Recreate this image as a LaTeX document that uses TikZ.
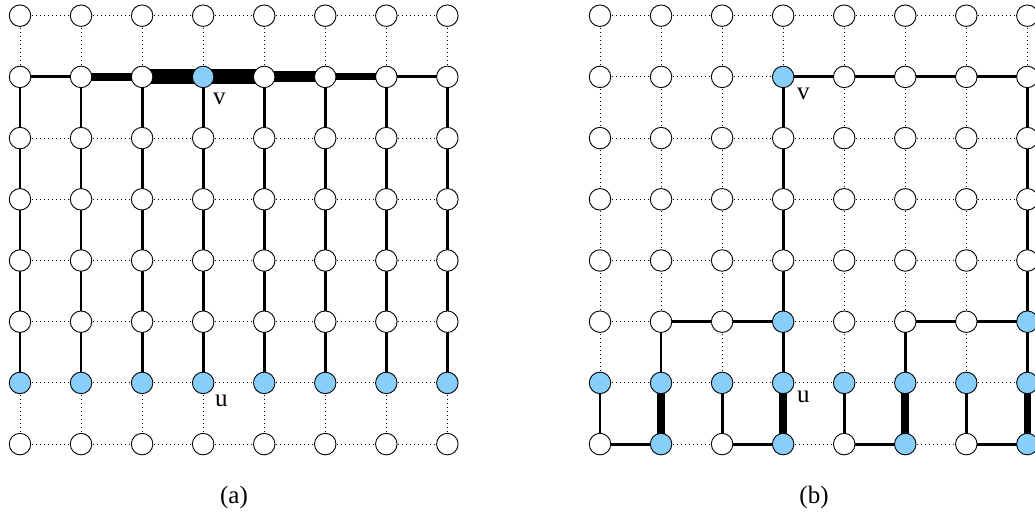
\documentclass[tikz,border=0pt]{standalone}
\usepackage{fontspec}
\setmainfont{Liberation Serif}
\usetikzlibrary{backgrounds}
\definecolor{skyblue}{RGB}{135,206,250}
\begin{document}
\begin{tikzpicture}[x=1pt,y=-1pt,
  vtx/.style={circle,draw=black,line width=0.9pt,minimum size=21.5pt,inner sep=0pt},
  gridedge/.style={line width=1pt,dash pattern=on 1pt off 3pt},
  pathedge/.style={line width=2.8pt},
  heavyedge/.style={line width=7.7pt},
  lbl/.style={inner sep=0pt,font=\fontsize{25}{30}\selectfont}]
\useasboundingbox (0,0) rectangle (1035,513);
\def\dx{61.05}
\def\dy{61.2}

% vertices of both 8x8 grids
\foreach \c in {0,...,7}{
  \foreach \r in {0,...,7}{
    \pgfmathtruncatemacro\ablue{(\r==6) || (\c==3 && \r==1)}
    \pgfmathtruncatemacro\bblue{(\r==6) || (\c==3 && \r==1) || (\r==5 && (\c==3 || \c==7)) || (\r==7 && mod(\c,2)==1)}
    \ifnum\ablue=1 \def\afill{skyblue}\else\def\afill{white}\fi
    \ifnum\bblue=1 \def\bfill{skyblue}\else\def\bfill{white}\fi
    \node[vtx,fill=\afill] (a-\c-\r) at ({20+\dx*\c},{15.7+\dy*\r}) {};
    \node[vtx,fill=\bfill] (b-\c-\r) at ({600+\dx*\c},{15.7+\dy*\r}) {};
  }
}

\begin{pgfonlayer}{background}
  % dotted lattice edges
  \foreach \g in {a,b}{
    \foreach \c in {0,...,7}{
      \foreach \r [evaluate=\r as \n using int(\r+1)] in {0,...,6}{
        \draw[gridedge] (\g-\c-\r.center) -- (\g-\c-\n.center);
        \draw[gridedge] (\g-\r-\c.center) -- (\g-\n-\c.center);
      }
    }
  }

  % (a): weighted row through v and the columns down to the u row
  \foreach \c/\w in {0/3,1/7.5,2/15,3/15,4/11,5/7,6/3}{
    \pgfmathtruncatemacro\n{\c+1}
    \draw[line width=\w pt] (a-\c-1.center) -- (a-\n-1.center);
  }
  \foreach \c in {0,...,7}
    \draw[pathedge] (a-\c-1.center) -- (a-\c-6.center);

  % (b): tree from v down to the blue row
  \draw[pathedge] (b-3-6.center) -- (b-3-1.center) -- (b-7-1.center) -- (b-7-6.center);
  \draw[pathedge] (b-1-6.center) -- (b-1-5.center) -- (b-3-5.center);
  \draw[pathedge] (b-5-6.center) -- (b-5-5.center) -- (b-7-5.center);
  \foreach \c [evaluate=\c as \n using int(\c+1)] in {0,2,4,6}
    \draw[pathedge] (b-\c-6.center) -- (b-\c-7.center) -- (b-\n-7.center);
  \foreach \c in {1,3,5,7}
    \draw[heavyedge] (b-\c-6.center) -- (b-\c-7.center);
\end{pgfonlayer}

% labels
\node[lbl,anchor=base west] (a-v) at (213,105) {v};
\node[lbl,anchor=base west] (a-u) at (215,406) {u};
\node[lbl,anchor=base west] (b-v) at (797,100) {v};
\node[lbl,anchor=base west] (b-u) at (797,402) {u};
\node[lbl,anchor=base] (a-cap) at (234,503.5) {(a)};
\node[lbl,anchor=base] (b-cap) at (814,503.5) {(b)};
\end{tikzpicture}
\end{document}
